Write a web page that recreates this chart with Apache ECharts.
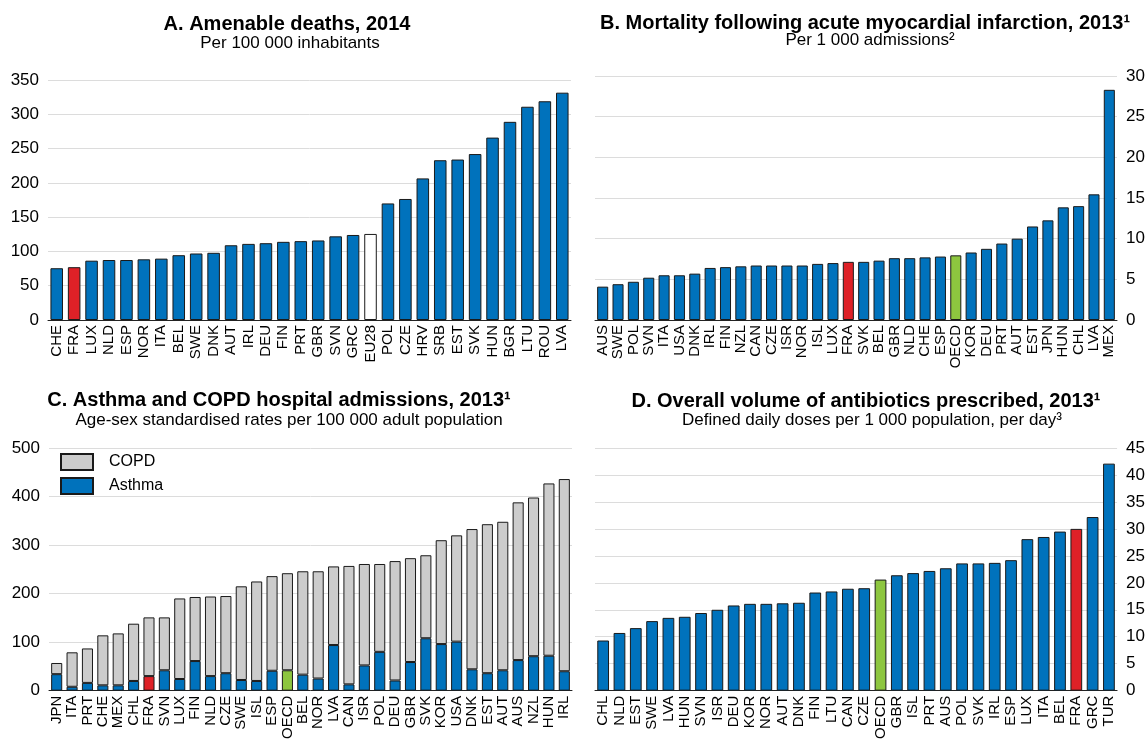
<!DOCTYPE html>
<html>
<head>
<meta charset="utf-8">
<script src="https://cdn.jsdelivr.net/npm/echarts@6/dist/echarts.min.js"></script>
<style>
  html, body { margin: 0; padding: 0; background: #fff; }
  #chart { width: 1148px; height: 742px; }
</style>
</head>
<body>
<div id="chart"></div>
<script>
// Panel A: amenable deaths per 100 000 inhabitants, 2014
const amenableCountries = ['CHE','FRA','LUX','NLD','ESP','NOR','ITA','BEL','SWE','DNK','AUT','IRL','DEU','FIN','PRT','GBR','SVN','GRC','EU28','POL','CZE','HRV','SRB','EST','SVK','HUN','BGR','LTU','ROU','LVA'];
const amenableDeaths = [75.5, 77, 86.5, 87.5, 87.5, 88.5, 89.5, 94.5, 97, 98, 109, 111, 112, 114, 115, 116, 122, 124, 125.5, 170, 176.5, 206.5, 233, 234, 242, 266, 289, 311, 319, 331.5];

// Panel B: mortality following AMI per 1 000 admissions, 2013
const amiCountries = ['AUS','SWE','POL','SVN','ITA','USA','DNK','IRL','FIN','NZL','CAN','CZE','ISR','NOR','ISL','LUX','FRA','SVK','BEL','GBR','NLD','CHE','ESP','OECD','KOR','DEU','PRT','AUT','EST','JPN','HUN','CHL','LVA','MEX'];
const amiMortality = [4.1, 4.4, 4.7, 5.2, 5.5, 5.5, 5.7, 6.4, 6.5, 6.6, 6.7, 6.7, 6.7, 6.7, 6.9, 7.0, 7.15, 7.15, 7.3, 7.6, 7.6, 7.7, 7.8, 7.95, 8.3, 8.75, 9.4, 10.0, 11.5, 12.25, 13.85, 14.0, 15.45, 28.3];

// Panel C: asthma and COPD hospital admissions per 100 000 adults, 2013
const admissionCountries = ['JPN','ITA','PRT','CHE','MEX','CHL','FRA','SVN','LUX','FIN','NLD','CZE','SWE','ISL','ESP','OECD','BEL','NOR','LVA','CAN','ISR','POL','DEU','GBR','SVK','KOR','USA','DNK','EST','AUT','AUS','NZL','HUN','IRL'];
const asthmaAdmissions = [34, 8, 16, 11, 11, 20, 30, 42, 24, 61, 30, 36, 22, 20, 41, 42, 33, 25, 94, 13, 52, 80, 21, 59, 108, 96, 101, 44, 36, 42, 63, 71, 72, 40];
const copdAdmissions = [23, 71, 71, 103, 107, 118, 121, 109, 166, 132, 164, 159, 193, 205, 195, 200, 213, 221, 162, 244, 209, 181, 246, 214, 171, 214, 219, 289, 307, 306, 325, 327, 355, 396];

// Panel D: antibiotics prescribed, DDD per 1 000 population per day, 2013
const antibioticCountries = ['CHL','NLD','EST','SWE','LVA','HUN','SVN','ISR','DEU','KOR','NOR','AUT','DNK','FIN','LTU','CAN','CZE','OECD','GBR','ISL','PRT','AUS','POL','SVK','IRL','ESP','LUX','ITA','BEL','FRA','GRC','TUR'];
const antibioticVolume = [9.3, 10.7, 11.6, 12.9, 13.5, 13.7, 14.4, 15.0, 15.8, 16.1, 16.1, 16.2, 16.3, 18.2, 18.4, 18.9, 19.0, 20.6, 21.4, 21.8, 22.2, 22.7, 23.6, 23.6, 23.7, 24.2, 28.1, 28.5, 29.5, 30.0, 32.2, 42.1];

const BLUE = '#0072bc';
const COPD_GREY = '#cccccc';
const highlight = { FRA: '#de2127', OECD: '#8dc63f', EU28: '#ffffff' };
const FONT = '"Liberation Sans", Arial, Helvetica, sans-serif';

function coloured(codes, values, base) {
  return values.map((v, i) => ({
    value: v,
    itemStyle: { color: highlight[codes[i]] || base }
  }));
}

const grids = [
  { left: 48,  top: 80,  width: 523, height: 240 },
  { left: 595, top: 76,  width: 522, height: 244 },
  { left: 49,  top: 448, width: 523, height: 249 },
  { left: 595, top: 448, width: 523, height: 248 }
];

function xAxisFor(idx, data) {
  return {
    type: 'category', gridIndex: idx, data: data,
    axisTick: { show: false },
    axisLine: { lineStyle: { color: '#222', width: 1 } },
    axisLabel: { rotate: 90, interval: 0, fontSize: 15, color: '#000', margin: 5, fontFamily: FONT }
  };
}
function yAxisFor(idx, max, step, pos) {
  return {
    type: 'value', gridIndex: idx, min: 0, max: max, interval: step, position: pos,
    axisLine: { show: false }, axisTick: { show: false },
    splitLine: { lineStyle: { color: '#dcdcdc', width: 1 } },
    axisLabel: { fontSize: 17, color: '#000', margin: 9, fontFamily: FONT }
  };
}

const barBorder = { borderColor: '#1a1a1a', borderWidth: 1 };

function heading(x, y, text, bold) {
  return {
    type: 'text', x: x, y: y, silent: true,
    style: {
      text: text, fill: '#000',
      fontSize: bold ? 20 : 17, fontWeight: bold ? 'bold' : 'normal', fontFamily: FONT,
      align: 'center', verticalAlign: 'middle'
    }
  };
}

const option = {
  animation: false,
  backgroundColor: '#fff',
  textStyle: { fontFamily: FONT },
  grid: grids,
  xAxis: [
    xAxisFor(0, amenableCountries),
    xAxisFor(1, amiCountries),
    xAxisFor(2, admissionCountries),
    xAxisFor(3, antibioticCountries)
  ],
  yAxis: [
    yAxisFor(0, 350, 50, 'left'),
    yAxisFor(1, 30, 5, 'right'),
    yAxisFor(2, 500, 100, 'left'),
    yAxisFor(3, 45, 5, 'right')
  ],
  legend: {
    data: ['COPD', 'Asthma'],
    orient: 'vertical', left: 60, top: 453, padding: 0,
    itemWidth: 32, itemHeight: 16, itemGap: 6,
    icon: 'rect',
    textStyle: { fontSize: 16, color: '#000', padding: [0, 0, 0, 11], fontFamily: FONT }
  },
  graphic: [
    heading(287, 24, 'A. Amenable deaths, 2014', true),
    heading(290, 43, 'Per 100 000 inhabitants', false),
    heading(865, 23, 'B. Mortality following acute myocardial infarction, 2013¹', true),
    heading(870, 40, 'Per 1 000 admissions²', false),
    heading(279, 400, 'C. Asthma and COPD hospital admissions, 2013¹', true),
    heading(289, 420, 'Age-sex standardised rates per 100 000 adult population', false),
    heading(866, 401, 'D. Overall volume of antibiotics prescribed, 2013¹', true),
    heading(872, 420, 'Defined daily doses per 1 000 population, per day³', false)
  ],
  series: [
    {
      type: 'bar', xAxisIndex: 0, yAxisIndex: 0, barCategoryGap: '28%',
      itemStyle: barBorder,
      data: coloured(amenableCountries, amenableDeaths, BLUE)
    },
    {
      type: 'bar', xAxisIndex: 1, yAxisIndex: 1, barCategoryGap: '28%',
      itemStyle: barBorder,
      data: coloured(amiCountries, amiMortality, BLUE)
    },
    {
      name: 'Asthma', type: 'bar', xAxisIndex: 2, yAxisIndex: 2, stack: 'resp', barCategoryGap: '28%',
      itemStyle: Object.assign({ color: BLUE }, barBorder),
      data: coloured(admissionCountries, asthmaAdmissions, BLUE)
    },
    {
      name: 'COPD', type: 'bar', xAxisIndex: 2, yAxisIndex: 2, stack: 'resp', barCategoryGap: '28%',
      itemStyle: Object.assign({ color: COPD_GREY }, barBorder),
      data: copdAdmissions
    },
    {
      type: 'bar', xAxisIndex: 3, yAxisIndex: 3, barCategoryGap: '28%',
      itemStyle: barBorder,
      data: coloured(antibioticCountries, antibioticVolume, BLUE)
    }
  ]
};

const chart = echarts.init(document.getElementById('chart'), null, { renderer: 'canvas' });
chart.setOption(option);
</script>
</body>
</html>
